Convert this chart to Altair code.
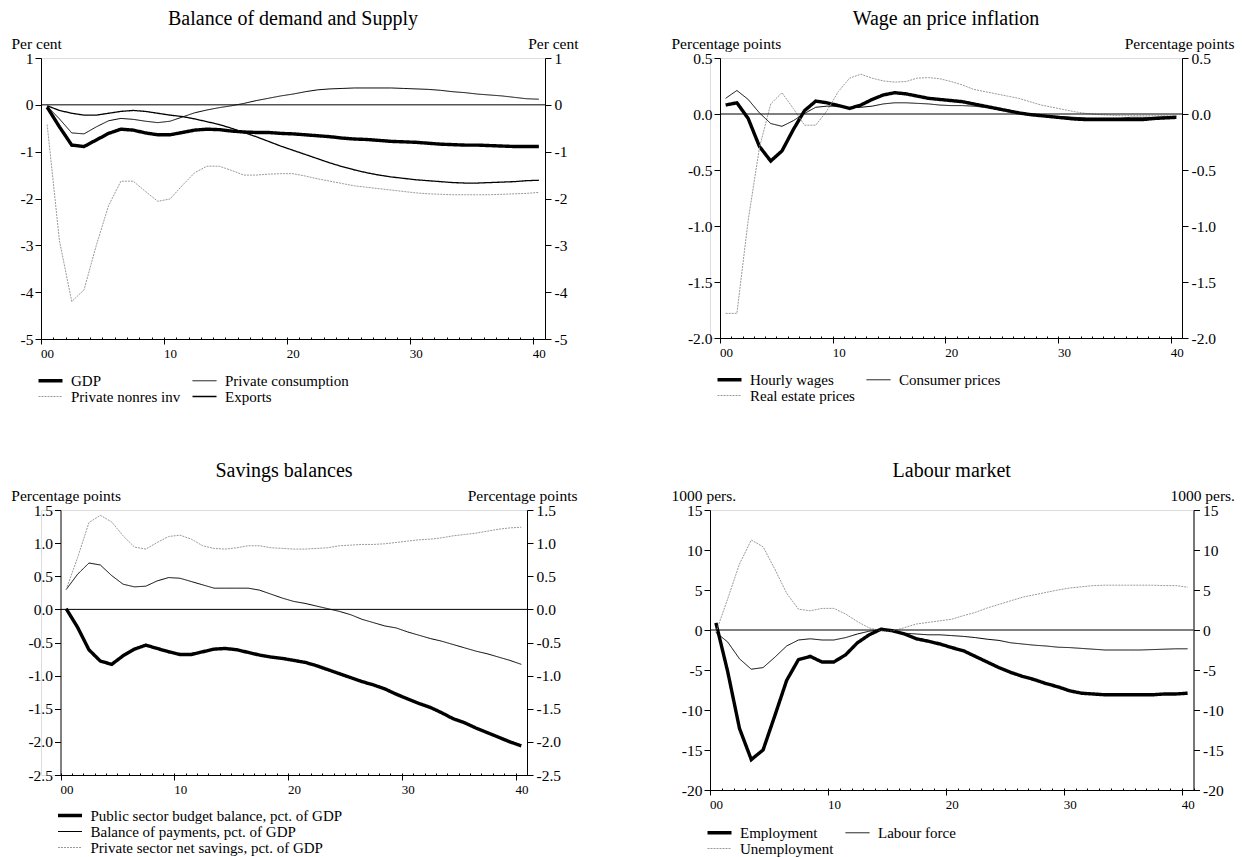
import altair as alt
import pandas as pd

FONT = "Liberation Serif"

# quarters (mid-quarter positions), axis extent and ticks
N = 41
quarters = [i + 0.5 for i in range(N)]
x_domain = [0, 41]
major_ticks = [0, 10, 20, 30, 40]
minor_ticks = list(range(0, 42))

# ---- Panel 1: Balance of demand and Supply (per cent)
gdp = [-0.05, -0.47, -0.86, -0.89, -0.75, -0.61, -0.52, -0.54, -0.60, -0.64,
       -0.64, -0.59, -0.54, -0.52, -0.53, -0.56, -0.58, -0.59, -0.59, -0.61,
       -0.62, -0.64, -0.66, -0.68, -0.71, -0.73, -0.74, -0.76, -0.78, -0.79,
       -0.80, -0.82, -0.84, -0.85, -0.86, -0.86, -0.87, -0.88, -0.89, -0.89, -0.89]
priv_cons = [-0.03, -0.30, -0.60, -0.62, -0.47, -0.34, -0.29, -0.31, -0.35, -0.38,
             -0.35, -0.26, -0.17, -0.11, -0.06, -0.02, 0.03, 0.09, 0.14, 0.19,
             0.23, 0.28, 0.32, 0.34, 0.35, 0.36, 0.36, 0.36, 0.36, 0.35,
             0.34, 0.33, 0.31, 0.28, 0.26, 0.23, 0.21, 0.19, 0.16, 0.13, 0.12]
nonres_inv = [-0.42, -2.90, -4.20, -3.95, -3.00, -2.15, -1.63, -1.63, -1.85, -2.06,
              -2.01, -1.72, -1.45, -1.31, -1.31, -1.40, -1.50, -1.50, -1.48, -1.47,
              -1.47, -1.52, -1.58, -1.63, -1.68, -1.73, -1.76, -1.79, -1.82, -1.85,
              -1.88, -1.90, -1.91, -1.92, -1.92, -1.92, -1.92, -1.91, -1.90, -1.89, -1.87]
exports = [-0.02, -0.12, -0.18, -0.22, -0.22, -0.18, -0.14, -0.12, -0.14, -0.18,
           -0.22, -0.25, -0.30, -0.36, -0.42, -0.50, -0.59, -0.68, -0.78, -0.88,
           -0.97, -1.06, -1.15, -1.24, -1.32, -1.39, -1.45, -1.50, -1.54, -1.57,
           -1.60, -1.62, -1.64, -1.66, -1.67, -1.67, -1.66, -1.65, -1.64, -1.62, -1.61]

# ---- Panel 2: Wage an price inflation (percentage points)
hourly_wages = [0.08, 0.10, -0.04, -0.29, -0.42, -0.33, -0.14, 0.03, 0.115, 0.10,
                0.075, 0.05, 0.08, 0.13, 0.17, 0.19, 0.18, 0.16, 0.14, 0.13,
                0.12, 0.11, 0.09, 0.07, 0.05, 0.03, 0.01, -0.005, -0.015, -0.025,
                -0.035, -0.045, -0.05, -0.05, -0.05, -0.05, -0.05, -0.05, -0.04, -0.035, -0.03]
consumer_prices = [0.14, 0.21, 0.13, 0.01, -0.085, -0.11, -0.06, 0.005, 0.06, 0.07,
                   0.07, 0.055, 0.06, 0.07, 0.09, 0.10, 0.10, 0.095, 0.09, 0.08,
                   0.075, 0.075, 0.07, 0.06, 0.045, 0.03, 0.015, 0.0, -0.01, -0.02,
                   -0.025, -0.03, -0.035, -0.035, -0.035, -0.035, -0.03, -0.03, -0.03, -0.025, -0.02]
real_estate = [-1.78, -1.78, -0.95, -0.30, 0.09, 0.19, 0.05, -0.10, -0.10, 0.03,
               0.20, 0.32, 0.355, 0.32, 0.295, 0.285, 0.29, 0.32, 0.325, 0.315,
               0.29, 0.26, 0.22, 0.20, 0.18, 0.16, 0.14, 0.11, 0.08, 0.06,
               0.04, 0.02, 0.005, -0.005, -0.01, -0.015, -0.015, -0.015, -0.015, -0.015, -0.015]

# ---- Panel 3: Savings balances (percentage points)
public_balance = [0.01, -0.27, -0.61, -0.78, -0.83, -0.70, -0.60, -0.54, -0.59, -0.64,
                  -0.68, -0.68, -0.64, -0.60, -0.59, -0.61, -0.65, -0.69, -0.72, -0.74,
                  -0.77, -0.80, -0.85, -0.91, -0.97, -1.03, -1.09, -1.14, -1.20, -1.28,
                  -1.35, -1.42, -1.48, -1.56, -1.65, -1.71, -1.79, -1.86, -1.93, -2.00, -2.06]
balance_payments = [0.30, 0.53, 0.70, 0.67, 0.51, 0.38, 0.34, 0.35, 0.43, 0.48,
                    0.47, 0.42, 0.37, 0.32, 0.32, 0.32, 0.32, 0.29, 0.23, 0.17,
                    0.12, 0.09, 0.05, 0.01, -0.03, -0.08, -0.15, -0.20, -0.25, -0.28,
                    -0.34, -0.39, -0.44, -0.48, -0.53, -0.58, -0.63, -0.67, -0.72, -0.77, -0.83]
private_savings = [0.30, 0.78, 1.31, 1.42, 1.32, 1.11, 0.94, 0.91, 1.01, 1.10,
                   1.12, 1.06, 0.96, 0.92, 0.91, 0.93, 0.96, 0.96, 0.93, 0.92,
                   0.91, 0.91, 0.92, 0.93, 0.96, 0.97, 0.98, 0.98, 0.99, 1.01,
                   1.03, 1.05, 1.06, 1.08, 1.11, 1.13, 1.15, 1.18, 1.21, 1.23, 1.24]

# ---- Panel 4: Labour market (1000 persons)
employment = [0.9, -5.2, -12.3, -16.2, -15.0, -10.7, -6.3, -3.7, -3.3, -4.0,
              -4.0, -3.1, -1.6, -0.6, 0.1, -0.1, -0.5, -1.1, -1.4, -1.75,
              -2.2, -2.6, -3.3, -4.0, -4.7, -5.3, -5.8, -6.2, -6.7, -7.1,
              -7.6, -7.9, -8.0, -8.1, -8.1, -8.1, -8.1, -8.1, -8.0, -8.0, -7.9]
labour_force = [-0.3, -1.5, -3.6, -4.9, -4.7, -3.4, -2.0, -1.25, -1.1, -1.25,
                -1.25, -0.95, -0.5, -0.15, 0.05, -0.2, -0.4, -0.5, -0.6, -0.6,
                -0.7, -0.8, -0.95, -1.15, -1.3, -1.6, -1.75, -1.9, -2.0, -2.15,
                -2.2, -2.3, -2.4, -2.5, -2.5, -2.5, -2.5, -2.45, -2.4, -2.35, -2.35]
unemployment = [-0.3, 3.9, 8.25, 11.25, 10.4, 7.6, 4.6, 2.6, 2.4, 2.7,
                2.7, 2.0, 1.05, 0.25, -0.1, -0.1, 0.3, 0.75, 0.95, 1.15,
                1.35, 1.8, 2.2, 2.75, 3.2, 3.65, 4.1, 4.4, 4.7, 5.0,
                5.25, 5.4, 5.55, 5.6, 5.6, 5.6, 5.6, 5.6, 5.55, 5.55, 5.35]

# line styles: (colour, width, dash)
STYLE = {
    "thick": ("#000000", 3.4, [1, 0]),
    "thin": ("#000000", 1.0, [1, 0]),
    "thin2": ("#000000", 1.3, [1, 0]),
    "dot": ("#9a9a9a", 1.0, [2, 1]),
}


def label_expr(dec):
    f = ".1f" if dec else "d"
    return ("datum.value < 0 ? '-' + format(-datum.value, '%s') : format(datum.value, '%s')" % (f, f))


def panel(title, series, ydom, yticks, dec, unit,
          W, H, inset, ltx, rtx, lcols, ly, colpad):
    # series: list of (name, values, style) in legend (column-major) order
    names = [s[0] for s in series]
    rows = []
    for name, vals, _ in series:
        for t, v in zip(quarters, vals):
            rows.append({"t": t, "v": v, "series": name})
    df = pd.DataFrame(rows)
    colors = [STYLE[s[2]][0] for s in series]
    widths = [STYLE[s[2]][1] for s in series]
    dashes = [STYLE[s[2]][2] for s in series]

    xscale = alt.Scale(domain=x_domain, range=[inset, W], nice=False, zero=False)
    yscale = alt.Scale(domain=ydom, nice=False, zero=False)

    common = dict(labelFont=FONT, labelColor="black",
                  tickColor="black", domainColor="black", grid=False)
    x_major = alt.Axis(orient="bottom", values=major_ticks, title=None,
                       labelExpr="datum.value == 0 ? '00' : datum.label",
                       tickSize=5, labelPadding=3, labelOffset=6, labelFontSize=13,
                       labelFlush=False, labelOverlap=False, **common)
    x_minor = alt.Axis(orient="bottom", values=minor_ticks, labels=False,
                       domain=False, tickSize=2, tickColor="black", offset=-2,
                       title=None, grid=False)
    ytitle = dict(title=unit, titleAngle=0, titleY=-10, titleBaseline="alphabetic",
                  titleFont=FONT, titleFontSize=15.5, titleFontWeight="normal",
                  titleColor="black")
    y_left = alt.Axis(orient="left", values=yticks, labelExpr=label_expr(dec),
                      titleX=ltx, titleAlign="left", tickSize=6, labelPadding=2,
                      labelFontSize=15.5, offset=-inset, labelOverlap=False,
                      **ytitle, **common)
    y_right = alt.Axis(orient="right", values=yticks, labelExpr=label_expr(dec),
                       titleX=rtx, titleAlign="right", tickSize=6, labelPadding=3,
                       labelFontSize=15.5, labelOverlap=False, **ytitle, **common)

    legend = alt.Legend(title=None, orient="none", legendX=inset - 8, legendY=H + ly,
                        columns=lcols, symbolType="M-1,0H11", symbolSize=16,
                        labelFont=FONT, labelFontSize=15, labelColor="black",
                        labelOffset=23, columnPadding=colpad, rowPadding=0,
                        labelLimit=500)

    lines = alt.Chart(df).mark_line(clip=False).encode(
        x=alt.X("t:Q", scale=xscale, axis=x_major),
        y=alt.Y("v:Q", scale=yscale, axis=y_left),
        color=alt.Color("series:N", scale=alt.Scale(domain=names, range=colors), legend=legend),
        strokeWidth=alt.StrokeWidth("series:N", scale=alt.Scale(type="ordinal", domain=names, range=widths), legend=legend),
        strokeDash=alt.StrokeDash("series:N", scale=alt.Scale(type="ordinal", domain=names, range=dashes), legend=legend),
    )
    zero_df = pd.DataFrame({"x0": [x_domain[0]], "x1": [x_domain[1]], "y": [0]})
    rule = alt.Chart(zero_df).mark_rule(color="black", strokeWidth=1).encode(
        x=alt.X("x0:Q", scale=xscale, axis=x_minor),
        x2="x1:Q",
        y=alt.Y("y:Q", scale=yscale, axis=y_right),
    )
    return alt.layer(lines, rule).resolve_axis(x="independent", y="independent").properties(
        width=W, height=H,
        title=alt.TitleParams(text=title, font=FONT, fontSize=20, fontWeight="normal",
                              color="black", anchor="middle", offset=7),
    )


p1 = panel("Balance of demand and Supply",
           [("GDP", gdp, "thick"), ("Private nonres inv", nonres_inv, "dot"),
            ("Private consumption", priv_cons, "thin"), ("Exports", exports, "thin2")],
           [-5, 1], [-5, -4, -3, -2, -1, 0, 1], False, "Per cent",
           504, 281, 0, -30, 33, 2, 34, 6)
p2 = panel("Wage an price inflation",
           [("Hourly wages", hourly_wages, "thick"), ("Real estate prices", real_estate, "dot"),
            ("Consumer prices", consumer_prices, "thin")],
           [-2.0, 0.5], [-2.0, -1.5, -1.0, -0.5, 0.0, 0.5], True, "Percentage points",
           472, 280, 10, -49, 52, 2, 34, 6)
p3 = panel("Savings balances",
           [("Public sector budget balance, pct. of GDP", public_balance, "thick"),
            ("Balance of payments, pct. of GDP", balance_payments, "thin"),
            ("Private sector net savings, pct. of GDP", private_savings, "dot")],
           [-2.5, 1.5], [-2.5, -2.0, -1.5, -1.0, -0.5, 0.0, 0.5, 1.0, 1.5], True, "Percentage points",
           486, 265, 19.5, -49.7, 50, 1, 33, 6)
p4 = panel("Labour market",
           [("Employment", employment, "thick"), ("Unemployment", unemployment, "dot"),
            ("Labour force", labour_force, "thin")],
           [-20, 15], [-20, -15, -10, -5, 0, 5, 10, 15], False, "1000 pers.",
           483.5, 280, 0, -39, 41, 2, 35, 6)

chart = alt.concat(p1, p2, p3, p4, columns=2, spacing={"row": 54, "column": 91},
                   align="each", bounds="full").resolve_scale(
    color="independent", strokeWidth="independent", strokeDash="independent"
).resolve_legend(
    color="independent", strokeWidth="independent", strokeDash="independent"
).properties(
    padding={"left": 2, "top": 0, "right": 0, "bottom": 0}
).configure_view(stroke=None).configure(font=FONT)

chart.save("out.html", embed_options={"renderer": "svg", "actions": False})
